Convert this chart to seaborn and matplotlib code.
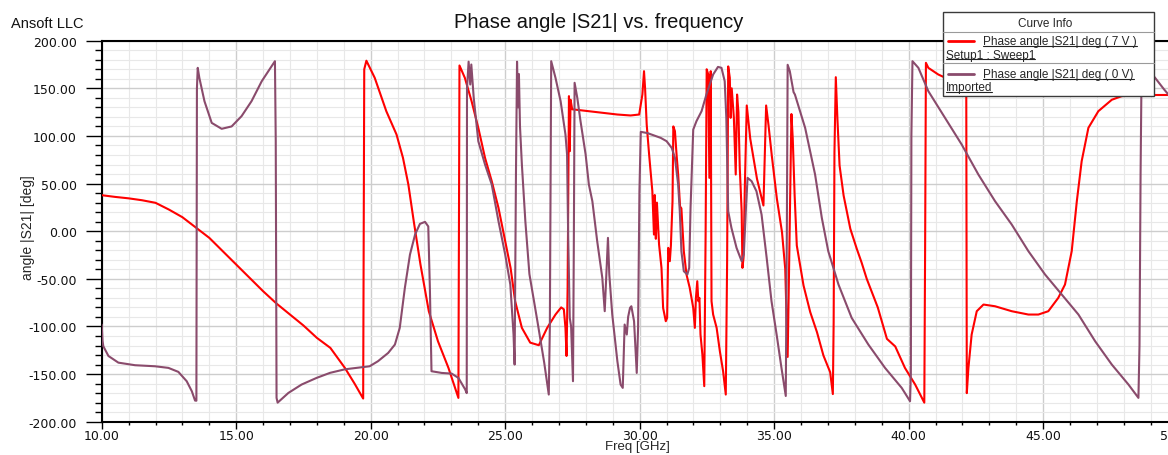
import matplotlib.pyplot as plt
import matplotlib.ticker as mticker
import pandas as pd
import seaborn as sns
from matplotlib.lines import Line2D
from matplotlib.patches import Rectangle

# 7 V curve (Setup1 : Sweep1)
freq_7v = [
    10.0, 10.5, 11.0, 11.5, 12.0, 12.5, 13.0, 13.6, 14.0, 14.5, 15.0, 15.5,
    16.0, 16.5, 17.0, 17.5, 18.0, 18.5, 19.04, 19.4, 19.72, 19.76, 19.84,
    20.15, 20.58, 20.96, 21.2, 21.4, 21.6, 21.85, 22.16, 22.5, 22.89, 23.26,
    23.3, 23.5, 23.75, 24.0, 24.25, 24.5, 24.75, 25.0, 25.2, 25.37, 25.62,
    25.93, 26.25, 26.56, 26.87, 27.08, 27.18, 27.24, 27.28, 27.32, 27.37,
    27.40, 27.43, 27.49, 28.42, 29.17, 29.66, 29.98, 30.10, 30.16, 30.20,
    30.26, 30.35, 30.47, 30.53, 30.56, 30.60, 30.64, 30.72, 30.81, 30.87,
    30.97, 31.02, 31.06, 31.12, 31.16, 31.22, 31.25, 31.31, 31.37, 31.43,
    31.50, 31.55, 31.60, 31.64, 31.74, 31.86, 31.99, 32.05, 32.09, 32.14,
    32.18, 32.22, 32.26, 32.33, 32.40, 32.45, 32.49, 32.55, 32.59, 32.64,
    32.67, 32.73, 32.86, 32.98, 33.10, 33.20, 33.25, 33.29, 33.35, 33.38,
    33.42, 33.50, 33.57, 33.62, 33.67, 33.72, 33.79, 33.82, 33.86, 33.91,
    33.98, 34.11, 34.36, 34.60, 34.70, 34.79, 34.91, 35.10, 35.29, 35.41,
    35.50, 35.55, 35.64, 35.69, 35.76, 35.84, 36.09, 36.34, 36.59, 36.83,
    37.08, 37.18, 37.21, 37.24, 37.29, 37.35, 37.43, 37.58, 37.83, 38.07,
    38.25, 38.44, 38.85, 39.19, 39.50, 39.86, 40.24, 40.58, 40.61, 40.64,
    40.73, 41.10, 41.60, 42.14, 42.16, 42.22, 42.34, 42.53, 42.78, 43.21,
    43.83, 44.45, 44.82, 45.19, 45.56, 45.81, 46.06, 46.25, 46.43, 46.68,
    47.05, 47.55, 47.92, 48.50, 49.20, 49.70,
]
phase_7v = [
    37.8, 36.0, 34.5, 32.5, 29.8, 22.7, 14.7, 1.7, -7.0, -21.0, -35.0, -49.0,
    -63.0, -76.0, -87.5, -99.0, -112.0, -122.5, -143.5, -160.0, -175.7, 170.0, 179.0,
    161.0, 126.0, 101.5, 77.0, 49.0, 10.5, -35.0, -84.0, -115.5, -143.5, -175.0,
    174.0, 161.0, 136.5, 108.5, 77.0, 52.5, 24.5, -10.5, -38.5, -73.5, -101.5,
    -117.0, -119.7, -101.5, -87.5, -80.0, -82.0, -101.5, -131.0, -60.0, 141.8,
    84.0, 138.0, 128.0, 125.0, 122.5, 121.5, 122.5, 143.5, 168.0, 150.0,
    112.0, 80.5, 42.0, -3.5, 38.0, -8.0, 30.0, -14.0, -38.5, -80.5,
    -94.5, -91.0, -17.5, -31.5, -15.0, 31.5, 110.0, 105.0, 80.5, 59.5,
    26.0, 24.0, 0.0, -21.0, -45.5, -59.5, -80.5, -101.5, -70.0, -52.5,
    -73.5, -70.0, -108.5, -129.5, -162.7, -3.5, 170.0, 164.5, 56.0, 168.0,
    -73.5, -87.5, -101.5, -126.0, -147.0, -171.5, -31.5, 173.0, 161.0, 119.0,
    150.0, 119.5, 59.5, 143.5, 125.0, 66.5, 21.0, -38.5, -28.0, 49.0,
    132.0, 97.0, 55.0, 27.0, 132.0, 111.0, 79.5, 34.0, -1.0, -39.5,
    -132.0, -45.0, 123.0, 97.0, 37.5, -15.0, -57.0, -85.0, -106.0, -130.5,
    -148.0, -171.0, -95.5, 83.0, 161.7, 118.0, 69.0, 37.5, 2.5, -18.5,
    -33.0, -50.0, -80.0, -113.0, -121.0, -143.5, -161.0, -180.0, -20.0, 176.8,
    171.5, 164.5, 158.0, 150.0, -170.0, -143.5, -108.5, -84.0, -77.0, -78.8,
    -84.0, -87.5, -87.5, -84.0, -70.0, -56.0, -21.0, 31.5, 73.5, 108.5,
    126.0, 138.0, 141.8, 143.0, 143.0, 143.0,
]

# 0 V curve (Imported)
freq_0v = [
    10.0, 10.03, 10.06, 10.25, 10.62, 11.24, 11.98, 12.48, 12.85, 13.16, 13.35,
    13.47, 13.52, 13.54, 13.57, 13.63, 13.82, 14.09, 14.46, 14.83, 15.2, 15.57,
    15.95, 16.44, 16.47, 16.50, 16.54, 16.94, 17.43, 17.99, 18.49, 19.04, 19.96,
    20.27, 20.65, 20.9, 21.08, 21.27, 21.46, 21.65, 21.83, 22.02, 22.14, 22.20,
    22.26, 22.64, 23.01, 23.26, 23.51, 23.57, 23.58, 23.64, 23.70, 23.74, 23.83,
    24.0, 24.25, 24.5, 24.75, 25.0, 25.19, 25.31, 25.35, 25.40, 25.44, 25.48,
    25.51, 25.55, 25.62, 25.75, 25.9, 26.2, 26.45, 26.62, 26.66, 26.71, 26.87,
    27.06, 27.24, 27.30, 27.34, 27.40, 27.45, 27.52, 27.55, 27.58, 27.63, 27.68,
    27.80, 27.99, 28.11, 28.24, 28.42, 28.61, 28.70, 28.77, 28.82, 28.87, 28.98,
    29.17, 29.29, 29.37, 29.44, 29.52, 29.57, 29.64, 29.69, 29.79, 29.89, 29.94,
    29.99, 30.04, 30.29, 30.78, 31.0, 31.19, 31.31, 31.43, 31.49, 31.55, 31.64,
    31.77, 31.84, 31.89, 31.95, 31.99, 32.11, 32.30, 32.48, 32.73, 32.91, 33.04,
    33.16, 33.22, 33.29, 33.41, 33.60, 33.79, 33.87, 33.95, 34.01, 34.16, 34.34,
    34.53, 34.72, 34.90, 35.09, 35.27, 35.43, 35.47, 35.50, 35.58, 35.72, 35.77,
    36.15, 36.52, 36.77, 37.01, 37.39, 37.88, 38.50, 39.12, 39.74, 40.05, 40.08,
    40.10, 40.14, 40.36, 40.73, 41.35, 41.97, 42.59, 43.21, 43.83, 44.45, 45.07,
    45.69, 46.31, 46.93, 47.55, 48.17, 48.54, 48.58, 48.62, 48.66, 49.16, 49.49,
    49.70,
]
phase_0v = [
    -98.0, -115.0, -120.8, -131.0, -138.0, -140.7, -141.8, -143.5, -147.7, -157.5, -168.0,
    -177.8, -178.0, 150.0, 171.5, 161.0, 136.5, 113.7, 107.5, 110.0, 120.8, 136.5,
    157.5, 178.5, 95.0, -175.0, -180.0, -169.8, -161.0, -154.0, -148.7, -145.0, -141.8,
    -136.5, -127.8, -119.0, -101.5, -59.5, -24.5, -3.5, 7.7, 9.8, 5.0, -60.0,
    -147.0, -148.8, -149.5, -154.0, -166.0, -170.0, 150.0, 178.0, 154.0, 175.0, 140.0,
    94.5, 70.0, 49.0, 10.5, -24.5, -56.0, -108.5, -140.0, 60.0, 178.0, 130.0,
    165.0, 110.0, 70.0, 10.0, -45.0, -95.0, -138.0, -171.5, -100.0, 178.5, 161.0,
    136.5, 101.5, 80.5, -3.5, -91.0, -100.0, -157.5, -20.0, 155.8, 148.0, 140.0,
    115.5, 80.5, 49.0, 31.5, -10.5, -49.0, -84.0, -38.5, -7.0, -45.5, -87.5,
    -136.5, -161.0, -164.5, -98.0, -108.5, -90.0, -80.5, -78.8, -94.5, -148.8, -101.5,
    42.0, 104.3, 103.0, 98.0, 94.5, 87.5, 77.0, 49.0, 21.0, -21.0, -42.0,
    -45.5, -38.5, 24.5, 73.5, 106.7, 115.5, 126.0, 143.5, 164.5, 172.5, 171.5,
    157.5, 119.0, 21.0, 3.5, -17.5, -31.5, -24.5, 24.5, 56.0, 52.5, 42.0,
    17.5, -28.0, -73.5, -108.5, -143.5, -173.0, 0.0, 174.7, 168.0, 146.0, 143.5,
    108.5, 59.5, 14.0, -21.0, -56.0, -91.0, -119.0, -143.5, -164.5, -178.5, -150.0,
    100.0, 178.5, 171.5, 147.0, 119.0, 91.0, 59.5, 31.5, 7.0, -21.0, -45.5,
    -66.5, -87.5, -115.5, -140.0, -161.0, -175.0, -120.0, 60.0, 178.0, 161.0, 149.0,
    142.0,
]

x_ticks = [10, 15, 20, 25, 30, 35, 40, 45, 50]
y_ticks = [-200, -150, -100, -50, 0, 50, 100, 150, 200]

red = "#ff0000"
purple = "#8a4b6c"
arial = "Liberation Sans"

sns.set_theme(style="white")
plt.rcParams["font.family"] = ["DejaVu Sans"]

W, H = 1168, 456
fig = plt.figure(figsize=(W / 100, H / 100), dpi=100)
# axes run past the right edge, as in the cropped original
ax = fig.add_axes([101.7 / W, 33.3 / H, 1076 / W, 381 / H])

df_7v = pd.DataFrame({"freq": freq_7v, "phase": phase_7v})
df_0v = pd.DataFrame({"freq": freq_0v, "phase": phase_0v})

sns.lineplot(data=df_7v, x="freq", y="phase", sort=False, estimator=None,
             color=red, linewidth=1.5, ax=ax, zorder=3)
sns.lineplot(data=df_0v, x="freq", y="phase", sort=False, estimator=None,
             color=purple, linewidth=1.5, ax=ax, zorder=4)

ax.set_xlim(10, 50)
ax.set_ylim(-200, 200)
ax.set_xticks(x_ticks)
ax.set_yticks(y_ticks)
ax.xaxis.set_minor_locator(mticker.MultipleLocator(1))
ax.yaxis.set_minor_locator(mticker.MultipleLocator(10))
ax.xaxis.set_major_formatter(mticker.FormatStrFormatter("%.2f"))
ax.yaxis.set_major_formatter(mticker.FormatStrFormatter("%.2f"))

ax.grid(which="major", color="#cdcdcd", linewidth=1.0)
ax.grid(which="minor", color="#e8e8e8", linewidth=0.8)
ax.set_axisbelow(True)

ax.tick_params(axis="y", which="major", direction="out", length=11.5, width=1,
               pad=6.5, labelsize=9, color="black", labelcolor="#111111", left=True)
ax.tick_params(axis="y", which="minor", direction="out", length=5, width=1,
               color="black", left=True)
ax.tick_params(axis="x", which="major", direction="out", length=5, width=1,
               pad=0.5, labelsize=9, color="black", labelcolor="#111111", bottom=True)
ax.tick_params(axis="x", which="minor", direction="out", length=2.5, width=1,
               color="black", bottom=True)

for side in ["left", "bottom", "top"]:
    ax.spines[side].set_color("black")
    ax.spines[side].set_linewidth(1.5)
ax.spines["right"].set_visible(False)

ax.set_xlabel("Freq [GHz]", fontsize=9.5, family=arial, va="center")
ax.xaxis.set_label_coords((637 - 101.7) / 1076, -(447 - 422.7) / 381)
ax.set_ylabel("angle |S21| [deg]", fontsize=10, family=arial, va="center")
ax.yaxis.set_label_coords((28 - 101.7) / 1076, (422.7 - 228) / 381)

fig.text(598.5 / W, 1 - 22 / H, "Phase angle |S21| vs. frequency",
         fontsize=14.5, family=arial, ha="center", va="center", color="#111111")
fig.text(11 / W, 1 - 24 / H, "Ansoft LLC", fontsize=10.5, family=arial,
         ha="left", va="center", color="#111111")

# Curve Info box
bx0, bx1, by0, by1 = 943.3, 1154, 13.3, 96.7
fig.add_artist(Rectangle((bx0 / W, 1 - by1 / H), (bx1 - bx0) / W, (by1 - by0) / H,
                         transform=fig.transFigure, facecolor="white",
                         edgecolor="#3a3a3a", linewidth=1.0, zorder=5))
for sy in [33.3, 64]:
    fig.add_artist(Line2D([bx0 / W, bx1 / W], [1 - sy / H, 1 - sy / H],
                          color="#9a9a9a", linewidth=0.8, zorder=6))
fig.text(1045 / W, 1 - 24 / H, "Curve Info", fontsize=8.5, family=arial,
         ha="center", va="center", zorder=7)

rows = [
    (red, 42.3, "Phase angle |S21| deg ( 7 V )", 55.5, "Setup1 : Sweep1"),
    (purple, 75.0, "Phase angle |S21| deg ( 0 V)", 88.3, "Imported"),
]
underlined = []
for color, ly, label, sy, source in rows:
    fig.add_artist(Line2D([948 / W, 974 / W], [1 - ly / H, 1 - ly / H],
                          color=color, linewidth=2, zorder=7))
    underlined.append(fig.text(983 / W, 1 - ly / H, label, fontsize=8.5,
                               family=arial, ha="left", va="center", zorder=7))
    underlined.append(fig.text(946 / W, 1 - sy / H, source, fontsize=8.5,
                               family=arial, ha="left", va="center", zorder=7))

fig.canvas.draw()
renderer = fig.canvas.get_renderer()
for t in underlined:
    bb = t.get_window_extent(renderer)
    uy = (bb.y0 + 1.5) / H
    fig.add_artist(Line2D([bb.x0 / W, bb.x1 / W], [uy, uy], color="#222222",
                          linewidth=0.8, zorder=7))

fig.savefig("out.png", dpi=100)
